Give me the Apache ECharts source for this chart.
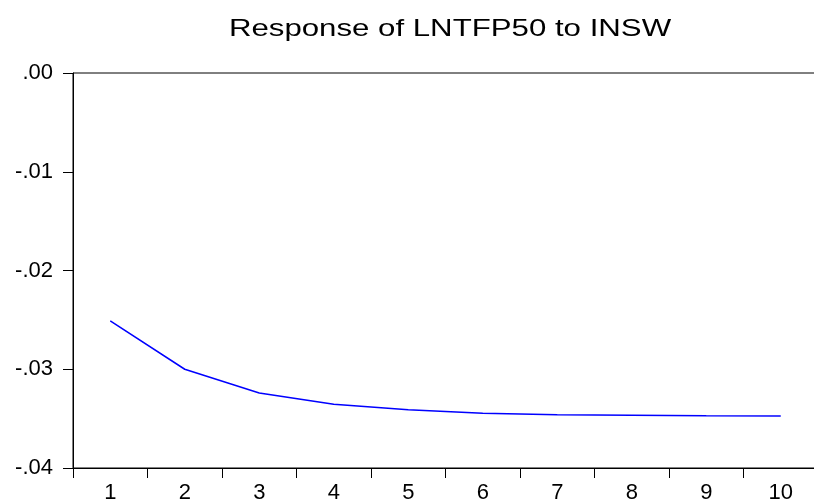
<!DOCTYPE html>
<html>
<head>
<meta charset="utf-8">
<script src="https://cdn.jsdelivr.net/npm/echarts@6/dist/echarts.min.js"></script>
<style>
html,body{margin:0;padding:0;background:#fff;}
#chart{width:814px;height:501px;}
</style>
</head>
<body>
<div id="chart"></div>
<script>
const titleText = 'Response of LNTFP50 to INSW';
const categories = ['1','2','3','4','5','6','7','8','9','10'];
const responseValues = [-0.0251, -0.0300, -0.0324, -0.03355, -0.0341, -0.03446, -0.0346, -0.03466, -0.0347, -0.03473];
const yTickLabels = ['-.04','-.03','-.02','-.01','.00'];

const chart = echarts.init(document.getElementById('chart'), null, {renderer:'canvas'});
const font = '"Liberation Sans", Arial, Helvetica, sans-serif';
chart.setOption({
  animation: false,
  backgroundColor: '#ffffff',
  graphic: [{
    type: 'text',
    x: 450,
    y: 29,
    scaleX: 1.3,
    style: {
      text: titleText,
      fontFamily: font,
      fontSize: 24,
      fill: '#000',
      textAlign: 'center',
      textVerticalAlign: 'middle'
    }
  }],
  grid: {
    left: 73, top: 73, width: 745, height: 395,
    outerBoundsMode: 'none',
    containLabel: false,
    show: true, borderColor: '#000', borderWidth: 1, backgroundColor: 'transparent'
  },
  xAxis: {
    type: 'category',
    data: categories,
    boundaryGap: true,
    axisLine: {show: true, onZero: false, lineStyle: {color: '#000', width: 1}},
    axisTick: {show: true, inside: false, length: 10, alignWithLabel: false, lineStyle: {color: '#000'}},
    axisLabel: {color: '#000', fontFamily: font, fontSize: 22, margin: 14},
    splitLine: {show: false}
  },
  yAxis: {
    type: 'value',
    min: -0.04, max: 0, interval: 0.01,
    axisLine: {show: true, onZero: false, lineStyle: {color: '#000', width: 1}},
    axisTick: {show: true, inside: false, length: 10, lineStyle: {color: '#000'}},
    axisLabel: {
      color: '#000', fontFamily: font, fontSize: 22, margin: 20,
      formatter: function (v, i) { return yTickLabels[i]; }
    },
    splitLine: {show: false}
  },
  series: [{
    type: 'line',
    data: responseValues,
    showSymbol: false,
    symbol: 'none',
    lineStyle: {color: '#0000ff', width: 1.5},
    itemStyle: {color: '#0000ff'}
  }]
});
</script>
</body>
</html>
